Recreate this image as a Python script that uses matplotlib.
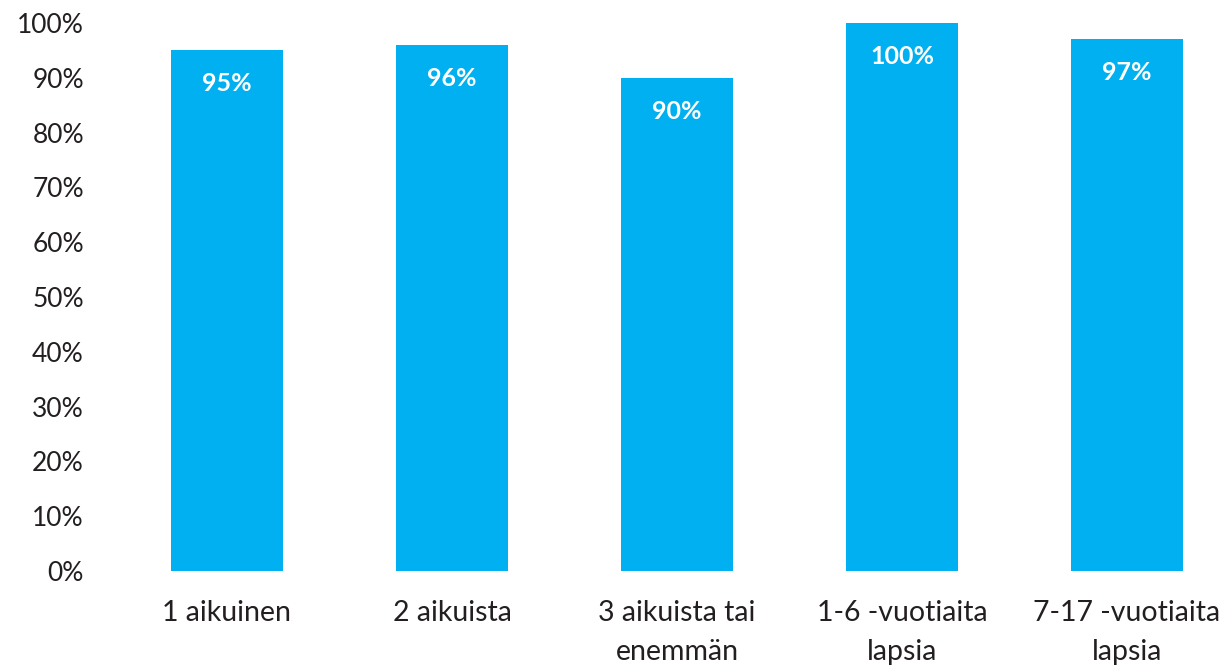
import matplotlib
matplotlib.use("Agg")
import matplotlib.pyplot as plt
from matplotlib.ticker import PercentFormatter

categories = ["1 aikuinen", "2 aikuista", "3 aikuista tai\nenemmän", "1-6 -vuotiaita\nlapsia", "7-17 -vuotiaita\nlapsia"]
values = [0.95, 0.96, 0.90, 1.00, 0.97]
value_labels = ["95%", "96%", "90%", "100%", "97%"]
yticks = [0, 0.1, 0.2, 0.3, 0.4, 0.5, 0.6, 0.7, 0.8, 0.9, 1.0]

plt.rcParams['font.family'] = ['Lato', 'DejaVu Sans']
TEXT = "#231F20"
BAR = "#00B0F0"

fig = plt.figure(figsize=(12.26, 6.66), dpi=100)
ax = fig.add_axes([114.5/1226, 95/666, 1125/1226, 548/666])
x = list(range(len(categories)))
ax.bar(x, values, width=0.5, color=BAR)
for xi, v, lab in zip(x, values, value_labels):
    ax.annotate(lab, (xi, v), xytext=(0, -24), textcoords="offset points",
                ha="center", va="center", color="white", fontsize=18, fontweight="bold")
ax.set_xlim(-0.5, 4.5)
ax.set_ylim(0, 1.0)
ax.set_yticks(yticks)
ax.yaxis.set_major_formatter(PercentFormatter(1.0, decimals=0))
ax.set_xticks(x)
ax.set_xticklabels(categories, linespacing=1.6)
ax.tick_params(axis="y", length=0, pad=22, labelsize=19, labelcolor=TEXT)
ax.tick_params(axis="x", length=0, pad=21, labelsize=20.5, labelcolor=TEXT)
for s in ax.spines.values():
    s.set_visible(False)
fig.savefig("out.png", dpi=100)
